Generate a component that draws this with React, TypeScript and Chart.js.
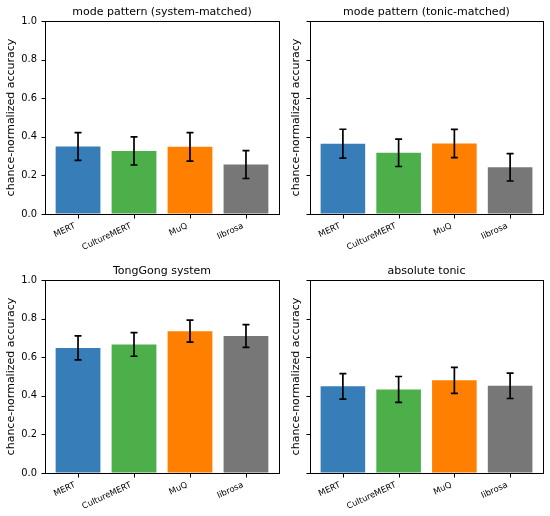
import React, { useEffect, useRef } from "react";
import { Chart, registerables } from "chart.js";

Chart.register(...registerables);

const categories = ["MERT", "CultureMERT", "MuQ", "librosa"];
const barColors = ["#377eb8", "#4daf4a", "#ff7f00", "#777777"];
const yTicks = [0, 0.2, 0.4, 0.6, 0.8, 1.0];

const titles = [
  "mode pattern (system-matched)",
  "mode pattern (tonic-matched)",
  "TongGong system",
  "absolute tonic",
];

const systemMatchedValues = [0.35, 0.327, 0.348, 0.256];
const systemMatchedErrors = [0.072, 0.073, 0.074, 0.072];
const tonicMatchedValues = [0.364, 0.317, 0.365, 0.242];
const tonicMatchedErrors = [0.075, 0.071, 0.073, 0.071];
const tongGongValues = [0.648, 0.666, 0.735, 0.71];
const tongGongErrors = [0.062, 0.061, 0.057, 0.059];
const absoluteTonicValues = [0.449, 0.433, 0.48, 0.452];
const absoluteTonicErrors = [0.066, 0.067, 0.067, 0.066];

const FONT = "'DejaVu Sans', sans-serif";
const TICK_LEN = 4;

type PanelProps = {
  title: string;
  values: number[];
  errors: number[];
  width: number;
  height: number;
  yAxisWidth: number;
  xAxisHeight: number;
  rightPad: number;
  topPad: number;
  showYLabels: boolean;
  left: number;
  top: number;
};

function Panel(p: PanelProps) {
  const ref = useRef<HTMLCanvasElement | null>(null);
  useEffect(() => {
    if (!ref.current) return;
    Chart.defaults.color = "#000";
    const decorations = {
      id: "decorations",
      afterDatasetsDraw(chart: any) {
        const ctx = chart.ctx;
        const meta = chart.getDatasetMeta(0);
        const ys = chart.scales.y;
        ctx.save();
        ctx.strokeStyle = "#000";
        ctx.lineWidth = 1.7;
        meta.data.forEach((bar: any, i: number) => {
          const v = p.values[i];
          const e = p.errors[i];
          const x = bar.x;
          const y1 = ys.getPixelForValue(v + e);
          const y2 = ys.getPixelForValue(v - e);
          const cap = 3.5;
          ctx.beginPath();
          ctx.moveTo(x, y1);
          ctx.lineTo(x, y2);
          ctx.moveTo(x - cap, y1);
          ctx.lineTo(x + cap, y1);
          ctx.moveTo(x - cap, y2);
          ctx.lineTo(x + cap, y2);
          ctx.stroke();
        });
        ctx.restore();
      },
      afterDraw(chart: any) {
        const ctx = chart.ctx;
        const a = chart.chartArea;
        const xs = chart.scales.x;
        const ys = chart.scales.y;
        const L = Math.round(a.left) + 0.5;
        const T = Math.round(a.top) + 0.5;
        const R = Math.round(a.right) + 0.5;
        const B = Math.round(a.bottom) + 0.5;
        ctx.save();
        ctx.strokeStyle = "#000";
        ctx.lineWidth = 1;
        ctx.strokeRect(L, T, R - L, B - T);
        ctx.beginPath();
        categories.forEach((_, i) => {
          const x = Math.round(xs.getPixelForValue(i)) + 0.5;
          ctx.moveTo(x, B);
          ctx.lineTo(x, B + TICK_LEN);
        });
        yTicks.forEach((v) => {
          const y = Math.round(ys.getPixelForValue(v)) + 0.5;
          ctx.moveTo(L, y);
          ctx.lineTo(L - TICK_LEN, y);
        });
        ctx.stroke();
        ctx.fillStyle = "#000";
        ctx.font = `11px ${FONT}`;
        ctx.textAlign = "center";
        ctx.textBaseline = "alphabetic";
        ctx.fillText(p.title, (a.left + a.right) / 2, a.top - 6.5);
        ctx.restore();
      },
    };
    const hiddenGrid = {
      display: true,
      drawOnChartArea: false,
      drawTicks: true,
      tickLength: TICK_LEN,
      tickColor: "rgba(0,0,0,0)",
      color: "rgba(0,0,0,0)",
      lineWidth: 1,
    };
    const chart = new Chart(ref.current, {
      type: "bar",
      data: {
        datasets: [
          {
            data: p.values.map((v, i) => ({ x: i, y: v })),
            backgroundColor: barColors,
            borderWidth: 0,
            barPercentage: 0.8,
            categoryPercentage: 1,
          },
        ],
      },
      options: {
        animation: false,
        responsive: false,
        devicePixelRatio: 1,
        layout: {
          padding: { left: 0, right: p.rightPad, top: p.topPad, bottom: 0 },
        },
        plugins: {
          legend: { display: false },
          tooltip: { enabled: false },
          title: { display: false },
        },
        scales: {
          x: {
            type: "linear",
            min: -0.59,
            max: 3.59,
            offset: false,
            afterBuildTicks: (s: any) => {
              s.ticks = categories.map((_, i) => ({ value: i }));
            },
            afterFit: (s: any) => {
              s.height = p.xAxisHeight;
            },
            border: { display: false },
            grid: hiddenGrid,
            ticks: {
              autoSkip: false,
              includeBounds: false,
              stepSize: 1,
              minRotation: 25,
              maxRotation: 25,
              padding: 3,
              labelOffset: -3,
              color: "#000",
              font: { family: FONT, size: 8.4 },
              callback: (v: any) => {
                const n = Number(v);
                return Number.isInteger(n) ? categories[n] ?? "" : "";
              },
            },
          },
          y: {
            min: 0,
            max: 1,
            afterBuildTicks: (s: any) => {
              s.ticks = yTicks.map((v) => ({ value: v }));
            },
            afterFit: (s: any) => {
              s.width = p.yAxisWidth;
            },
            border: { display: false },
            grid: hiddenGrid,
            title: {
              display: true,
              text: "chance-normalized accuracy",
              color: "#000",
              font: { family: FONT, size: 11 },
              padding: { top: 5, bottom: 0 },
            },
            ticks: {
              padding: 4,
              stepSize: 0.2,
              color: "#000",
              font: { family: FONT, size: 9.9 },
              callback: (v: any) => (p.showYLabels ? Number(v).toFixed(1) : ""),
            },
          },
        },
      },
      plugins: [decorations],
    } as any);
    return () => chart.destroy();
  }, []);
  return (
    <canvas
      ref={ref}
      width={p.width}
      height={p.height}
      style={{
        position: "absolute",
        left: p.left,
        top: p.top,
        width: p.width,
        height: p.height,
      }}
    />
  );
}

export default function App() {
  return (
    <div
      style={{
        position: "absolute",
        left: 0,
        top: 0,
        width: 550,
        height: 516,
        background: "#fff",
      }}
    >
      <Panel
        title={titles[0]}
        values={systemMatchedValues}
        errors={systemMatchedErrors}
        left={0}
        top={0}
        width={285}
        height={258}
        yAxisWidth={45}
        xAxisHeight={44}
        rightPad={6}
        topPad={21}
        showYLabels={true}
      />
      <Panel
        title={titles[1]}
        values={tonicMatchedValues}
        errors={tonicMatchedErrors}
        left={285}
        top={0}
        width={265}
        height={258}
        yAxisWidth={25}
        xAxisHeight={44}
        rightPad={7}
        topPad={21}
        showYLabels={false}
      />
      <Panel
        title={titles[2]}
        values={tongGongValues}
        errors={tongGongErrors}
        left={0}
        top={259}
        width={285}
        height={257}
        yAxisWidth={45}
        xAxisHeight={43}
        rightPad={6}
        topPad={21}
        showYLabels={true}
      />
      <Panel
        title={titles[3]}
        values={absoluteTonicValues}
        errors={absoluteTonicErrors}
        left={285}
        top={259}
        width={265}
        height={257}
        yAxisWidth={25}
        xAxisHeight={43}
        rightPad={7}
        topPad={21}
        showYLabels={false}
      />
    </div>
  );
}
